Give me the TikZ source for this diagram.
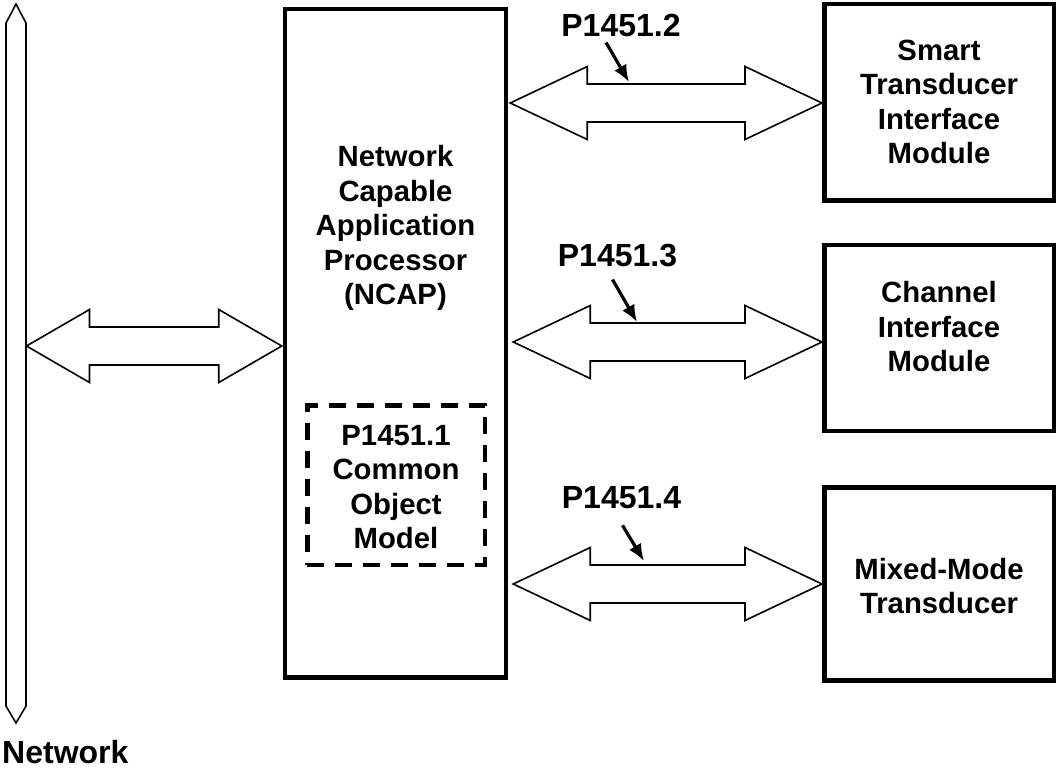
\documentclass[tikz,border=0pt]{standalone}
\usepackage{fontspec}
\setmainfont{Liberation Sans}
\usetikzlibrary{calc,arrows.meta}
\newcommand\blockarr[3]{%
  \draw[blockarrow] (#1) -- ++(#3,-36.5) -- ++(0,17.5) -- ($(#2)+(-#3,-19)$) -- ++(0,-17.5) -- (#2)
    -- ++(-#3,36.5) -- ++(0,-17.5) -- ($(#1)+(#3,19)$) -- ++(0,17.5) -- cycle;}
\begin{document}
\begin{tikzpicture}[x=1pt,y=-1pt,
  box/.style={draw, line width=4.5pt, inner sep=0pt, align=center},
  txt/.style={font=\bfseries\fontsize{29.3}{34.5}\selectfont, align=center, inner sep=0pt},
  lbl/.style={font=\bfseries\fontsize{32}{36}\selectfont, inner sep=0pt},
  blockarrow/.style={draw, line width=1.6pt, fill=white, line join=miter},
  pointer/.style={line width=3.2pt, -{Latex[length=17pt,width=14pt]}},
  dashbox/.style={draw, line width=4.5pt, dash pattern=on 17pt off 11pt, inner sep=0pt}]
\useasboundingbox (0,0) rectangle (1057,772);
% network bus
\draw[line width=1.6pt, line join=miter] (16,4) -- (26,23) -- (26,706) -- (16,723) -- (6,706) -- (6,23) -- cycle;
\coordinate (bus) at (26.5,346);
\node[lbl, anchor=west] (netlbl) at (2,752) {Network};
% NCAP
\node[box, minimum width=221pt, minimum height=668.5pt] (ncap) at (395.5,343) {};
\node[txt] (ncaptxt) at (395.5,228) {Network\\Capable\\Application\\Processor\\(NCAP)};
\node[dashbox, minimum width=177.5pt, minimum height=159.5pt] (com) at (396,485) {};
\node[txt] (comtxt) at (396,487) {P1451.1\\Common\\Object\\Model};
% right boxes
\node[box, minimum width=229.5pt, minimum height=196.5pt] (stim) at (939,102) {};
\node[txt] (stimtxt) at (939,102) {Smart\\Transducer\\Interface\\Module};
\node[box, minimum width=229.5pt, minimum height=186pt] (cim) at (939,338) {};
\node[txt] (cimtxt) at (939,327) {Channel\\Interface\\Module};
\node[box, minimum width=229.5pt, minimum height=193pt] (mmt) at (939,584) {};
\node[txt] (mmttxt) at (939,586) {Mixed-Mode\\Transducer};
% block arrows
\coordinate (n0) at ($(ncap.west |- bus)+(-1,0)$);
\blockarr{bus}{n0}{63}
\coordinate (a1l) at ($(ncap.east |- stim.west)+(2,1)$);
\coordinate (a1r) at ($(stim.west)+(0,1)$);
\blockarr{a1l}{a1r}{77}
\coordinate (a2l) at ($(ncap.east |- cim.west)+(5,4)$);
\coordinate (a2r) at ($(cim.west)+(0,4)$);
\blockarr{a2l}{a2r}{77}
\coordinate (a3l) at ($(ncap.east |- mmt.west)+(5,0)$);
\coordinate (a3r) at (mmt.west);
\blockarr{a3l}{a3r}{77}
% labels with pointers
\node[lbl] (p2) at (621,25) {P1451.2};
\node[lbl] (p3) at (617.5,256) {P1451.3};
\node[lbl] (p4) at (621.5,498) {P1451.4};
\coordinate (t2) at (629,82);
\coordinate (t3) at (637,322);
\coordinate (t4) at (644,561);
\draw[pointer] ($(p2.south)+(-15,6)$) -- (t2);
\draw[pointer] ($(p3.south)+(-5,12)$) -- (t3);
\draw[pointer] ($(p4.south)+(1,16)$) -- (t4);
\end{tikzpicture}
\end{document}
